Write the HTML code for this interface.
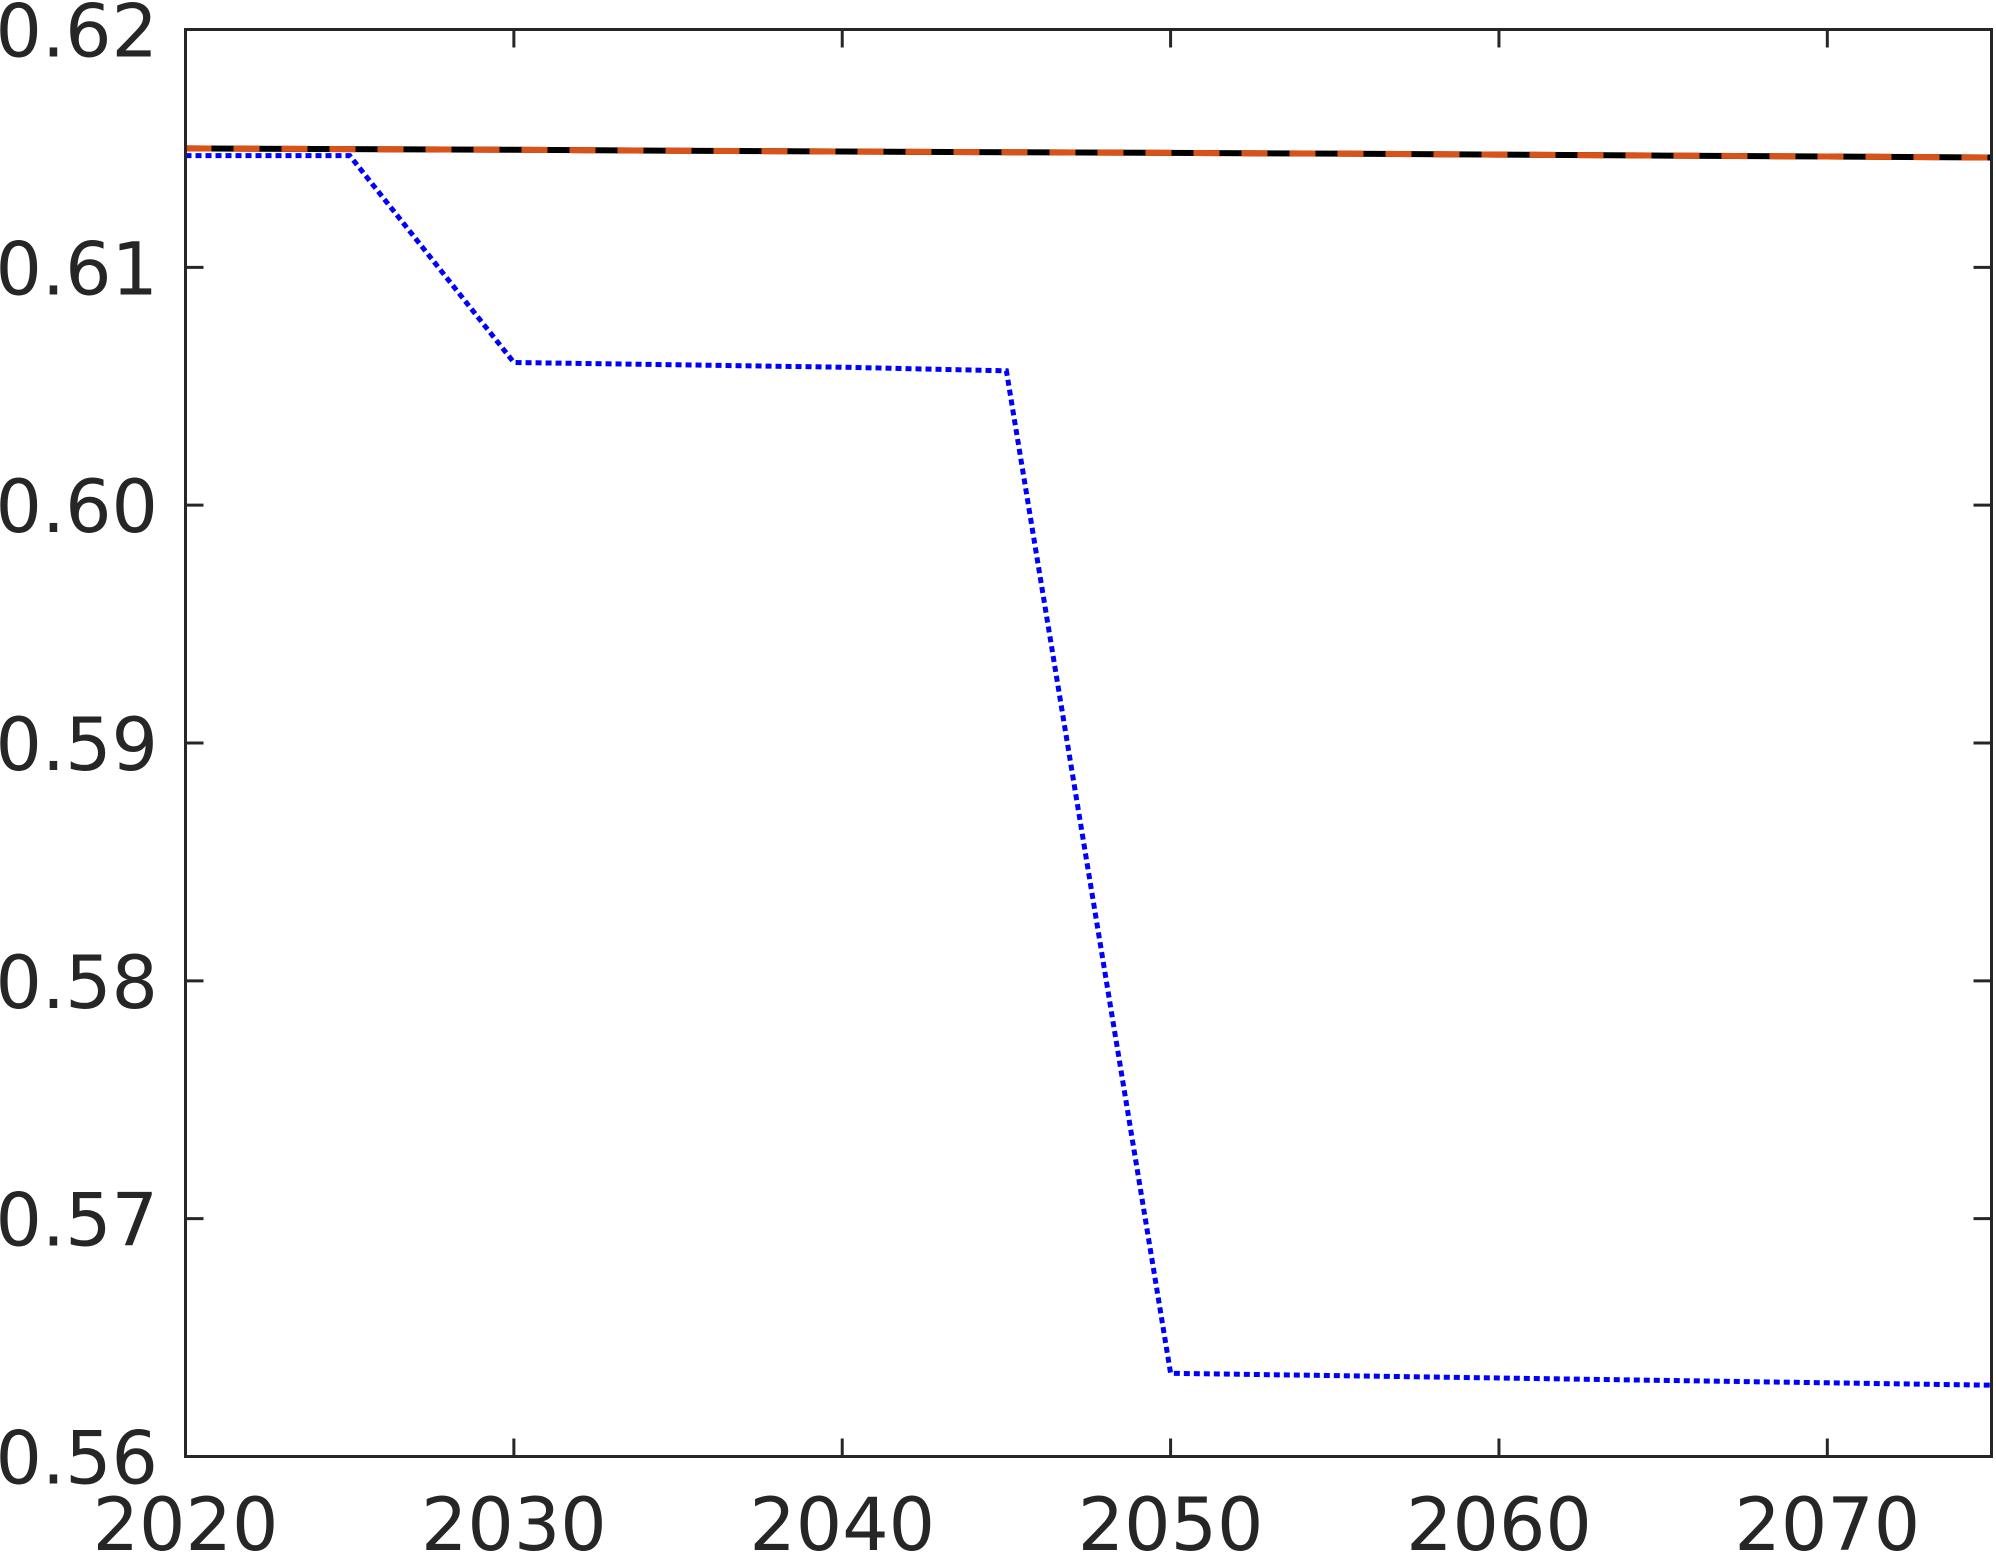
<!DOCTYPE html>
<html><head><meta charset="utf-8"><style>
html,body{margin:0;padding:0;background:#fff}
svg{display:block}
text{font-family:"DejaVu Sans","Liberation Sans",sans-serif;fill:#262626;font-size:73px}
</style></head><body>
<svg id="chart" width="1996" height="1554" viewBox="0 0 1996 1554" xmlns="http://www.w3.org/2000/svg">
<g id="series"></g>
<rect x="185.5" y="29.5" width="1806" height="1427" fill="none" stroke="#262626" stroke-width="3"/>
<g id="ticks"></g>
</svg>
<script>
const years = [2020,2025,2030,2035,2040,2045,2050,2055,2060,2065,2070,2075];
const blackSeries = [0.61500,0.61497,0.61494,0.61490,0.61487,0.61484,0.61481,0.61478,0.61474,0.61470,0.61466,0.61462];
const orangeSeries = [0.61500,0.61497,0.61494,0.61490,0.61487,0.61484,0.61481,0.61478,0.61474,0.61470,0.61466,0.61462];
const blueSeries = [0.61470,0.61470,0.60600,0.60590,0.60580,0.60565,0.56350,0.56340,0.56330,0.56320,0.56310,0.56300];
const xTicks = [2020,2030,2040,2050,2060,2070];
const yTicks = [0.56,0.57,0.58,0.59,0.60,0.61,0.62];
const yTickLabels = ["0.56","0.57","0.58","0.59","0.60","0.61","0.62"];

const L=185.5,R=1991.5,T=29.5,B=1456.5;
const xs=v=>L+(v-2020)/(2075-2020)*(R-L);
const ys=v=>B-(v-0.56)/(0.62-0.56)*(B-T);
const NS="http://www.w3.org/2000/svg";
const ser=document.getElementById('series'), tk=document.getElementById('ticks');
function mk(tag,attrs,parent){const e=document.createElementNS(NS,tag);for(const k in attrs)e.setAttribute(k,attrs[k]);parent.appendChild(e);return e;}
function line(vals,color,dash,w,name){
  const d=vals.map((v,i)=>(i?'L':'M')+xs(years[i]).toFixed(1)+' '+ys(v).toFixed(1)).join(' ');
  const p=mk('path',{d:d,fill:'none',stroke:color,'stroke-width':w},ser);
  if(dash)p.setAttribute('stroke-dasharray',dash);
  
  
}
line(blackSeries,'#000',null,6,'black-series-line');
line(orangeSeries,'#D95319','26 22',6,'orange-dashed-series-line');
line(blueSeries,'#0000FF','6 4',5,'blue-dotted-series-line');
xTicks.forEach(t=>{
  const x=xs(t);
  mk('line',{x1:x,x2:x,y1:B,y2:B-18,stroke:'#262626','stroke-width':3},tk);
  mk('line',{x1:x,x2:x,y1:T,y2:T+18,stroke:'#262626','stroke-width':3},tk);
  const tx=mk('text',{x:x,y:1550,'text-anchor':'middle'},tk);
  tx.textContent=t;
  
  
});
yTicks.forEach((t,i)=>{
  const y=ys(t);
  mk('line',{x1:L,x2:L+18,y1:y,y2:y,stroke:'#262626','stroke-width':3},tk);
  mk('line',{x1:R,x2:R-18,y1:y,y2:y,stroke:'#262626','stroke-width':3},tk);
  const tx=mk('text',{x:158,y:y+27,'text-anchor':'end'},tk);
  tx.textContent=yTickLabels[i];
  
  
});
</script>
</body></html>
